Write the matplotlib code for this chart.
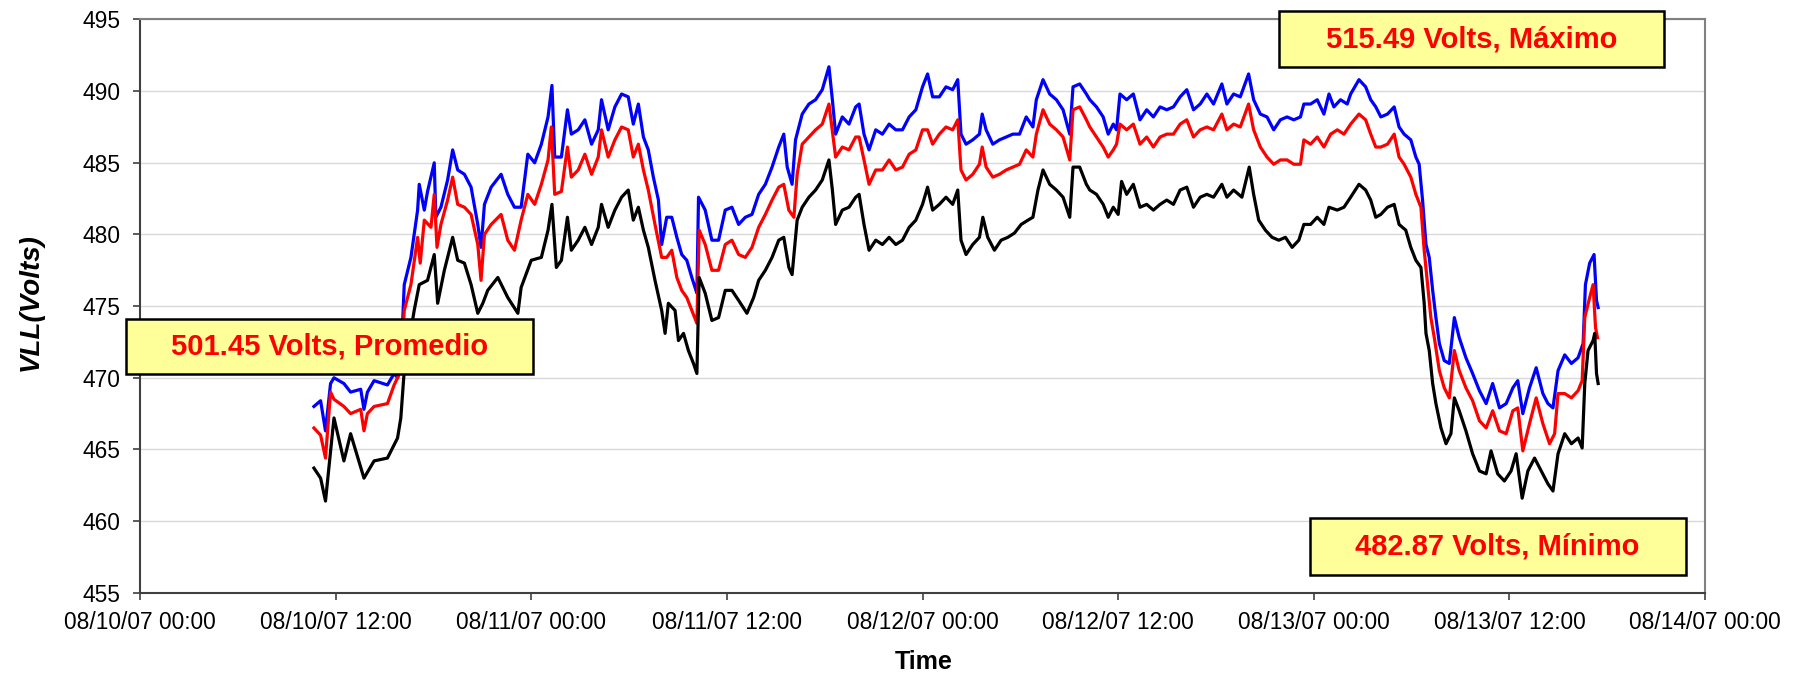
import numpy as np
import pandas as pd
import matplotlib
matplotlib.use("Agg")
import matplotlib.pyplot as plt
import matplotlib.dates as mdates
from matplotlib.patches import Rectangle

plt.rcParams['font.family'] = ['Liberation Sans', 'DejaVu Sans']

start = pd.Timestamp('2007-08-10 00:00')

# VLL maximo (azul): horas desde 08/10/07 00:00, volts
t_max = [10.67, 11.08, 11.38, 11.69, 11.9, 12.51, 12.92, 13.54, 13.74, 13.95, 14.36, 15.18, 15.59, 15.8,
         16.0, 16.21, 16.62, 17.03, 17.13, 17.44, 17.64, 18.05, 18.15, 18.46, 18.87, 19.18, 19.49, 19.9,
         20.31, 20.72, 20.92, 21.13, 21.54, 22.15, 22.56, 22.97, 23.38, 23.79, 24.21, 24.62, 25.03, 25.27,
         25.44, 25.85, 26.22, 26.46, 26.88, 27.29, 27.7, 28.11, 28.31, 28.72, 29.13, 29.54, 29.95, 30.26,
         30.57, 30.88, 31.18, 31.49, 31.8, 32.0, 32.31, 32.62, 32.93, 33.23, 33.54, 33.85, 34.16, 34.26,
         34.67, 35.08, 35.49, 35.9, 36.31, 36.72, 37.13, 37.54, 37.95, 38.36, 38.77, 39.18, 39.49, 39.7,
         40.0, 40.21, 40.62, 41.03, 41.44, 41.85, 42.26, 42.47, 42.67, 43.08, 43.49, 43.9, 44.11, 44.41,
         44.72, 45.13, 45.54, 45.95, 46.36, 46.77, 47.18, 47.59, 48.0, 48.31, 48.62, 49.03, 49.44, 49.85,
         50.16, 50.36, 50.67, 51.08, 51.49, 51.66, 51.9, 52.31, 52.72, 53.13, 53.54, 53.95, 54.36, 54.77,
         54.98, 55.39, 55.8, 56.21, 56.62, 57.03, 57.23, 57.64, 58.05, 58.26, 58.67, 59.08, 59.39, 59.7,
         59.9, 60.11, 60.52, 60.93, 61.34, 61.75, 62.16, 62.57, 62.98, 63.39, 63.8, 64.21, 64.62, 65.03,
         65.44, 65.85, 66.36, 66.67, 67.08, 67.49, 68.0, 68.31, 68.72, 69.13, 69.54, 69.95, 70.36, 70.77,
         71.18, 71.39, 71.8, 72.21, 72.62, 72.93, 73.23, 73.64, 74.05, 74.26, 74.77, 75.18, 75.49, 75.8,
         76.11, 76.52, 76.93, 77.23, 77.54, 77.95, 78.26, 78.46, 78.67, 78.88, 79.08, 79.29, 79.49, 79.7,
         80.0, 80.31, 80.62, 80.92, 81.33, 81.74, 82.16, 82.57, 82.97, 83.39, 83.8, 84.21, 84.51, 84.82,
         85.23, 85.64, 86.05, 86.36, 86.67, 86.98, 87.39, 87.8, 88.21, 88.52, 88.66, 88.92, 89.19, 89.34,
         89.44]
v_max = [468.0, 468.4, 466.3, 469.6, 470.0, 469.6, 469.0, 469.2, 467.8, 469.0, 469.8, 469.5, 470.3, 470.0,
         471.0, 476.5, 478.4, 481.7, 483.5, 481.7, 483.0, 485.0, 481.2, 481.9, 483.8, 485.9, 484.5, 484.2,
         483.3, 480.7, 479.1, 482.1, 483.3, 484.2, 482.8, 481.9, 481.9, 485.6, 485.0, 486.3, 488.2, 490.4,
         485.4, 485.4, 488.7, 487.0, 487.3, 488.0, 486.3, 487.3, 489.4, 487.3, 488.9, 489.8, 489.6, 487.7,
         489.1, 486.8, 485.9, 484.0, 482.4, 479.3, 481.2, 481.2, 479.8, 478.6, 478.2, 477.0, 475.9, 482.6,
         481.7, 479.6, 479.6, 481.7, 481.9, 480.7, 481.2, 481.4, 482.8, 483.5, 484.7, 486.1, 487.0, 484.7,
         483.5, 486.6, 488.4, 489.1, 489.4, 490.1, 491.7, 489.4, 487.0, 488.2, 487.7, 488.9, 489.1, 487.0,
         485.9, 487.3, 487.0, 487.7, 487.3, 487.3, 488.2, 488.7, 490.3, 491.2, 489.6, 489.6, 490.3, 490.1,
         490.8, 487.0, 486.3, 486.6, 487.0, 488.4, 487.3, 486.3, 486.6, 486.8, 487.0, 487.0, 488.2, 487.5,
         489.4, 490.8, 489.8, 489.4, 488.7, 487.0, 490.3, 490.5, 489.8, 489.4, 488.9, 488.2, 487.0, 487.7,
         487.3, 489.8, 489.4, 489.8, 488.0, 488.7, 488.2, 488.9, 488.7, 488.9, 489.6, 490.1, 488.7, 489.1,
         489.8, 489.1, 490.5, 489.1, 489.8, 489.6, 491.2, 489.4, 488.4, 488.2, 487.3, 488.0, 488.2, 488.0,
         488.2, 489.1, 489.1, 489.4, 488.4, 489.8, 488.9, 489.4, 489.1, 489.8, 490.8, 490.3, 489.4, 488.9,
         488.2, 488.4, 488.9, 487.5, 487.0, 486.6, 485.4, 484.9, 482.4, 479.3, 478.4, 476.1, 474.2, 472.4,
         471.2, 471.0, 474.2, 472.8, 471.4, 470.3, 469.1, 468.2, 469.6, 467.9, 468.2, 469.3, 469.8, 467.5,
         469.3, 470.7, 468.9, 468.2, 467.9, 470.5, 471.6, 471.0, 471.4, 472.4, 476.5, 478.0, 478.6, 475.4,
         474.9]

# VLL promedio (rojo)
t_avg = [10.67, 11.08, 11.38, 11.69, 11.9, 12.51, 12.92, 13.54, 13.74, 13.95, 14.36, 15.18, 15.59, 15.8,
         16.0, 16.21, 16.62, 17.03, 17.19, 17.44, 17.85, 18.05, 18.22, 18.46, 18.87, 19.18, 19.49, 19.9,
         20.31, 20.72, 20.92, 21.13, 21.54, 22.15, 22.56, 22.97, 23.38, 23.79, 24.21, 24.62, 25.03, 25.23,
         25.44, 25.85, 26.22, 26.46, 26.88, 27.29, 27.7, 28.11, 28.31, 28.72, 29.13, 29.54, 29.95, 30.26,
         30.57, 30.88, 31.18, 31.59, 32.0, 32.31, 32.62, 32.93, 33.23, 33.54, 33.85, 34.16, 34.3, 34.67,
         35.08, 35.49, 35.9, 36.31, 36.72, 37.13, 37.54, 37.95, 38.36, 38.77, 39.18, 39.49, 39.8, 40.11,
         40.31, 40.62, 41.03, 41.44, 41.85, 42.26, 42.57, 42.67, 43.08, 43.49, 43.9, 44.11, 44.41, 44.72,
         45.13, 45.54, 45.95, 46.36, 46.77, 47.18, 47.59, 48.0, 48.31, 48.62, 49.03, 49.44, 49.85, 50.16,
         50.36, 50.67, 51.08, 51.49, 51.66, 51.9, 52.31, 52.72, 53.13, 53.54, 53.95, 54.36, 54.77, 54.98,
         55.39, 55.8, 56.21, 56.62, 57.03, 57.23, 57.64, 58.05, 58.26, 58.67, 59.08, 59.39, 59.7, 59.9,
         60.11, 60.52, 60.93, 61.34, 61.75, 62.16, 62.57, 62.98, 63.39, 63.8, 64.21, 64.62, 65.03, 65.44,
         65.85, 66.36, 66.67, 67.08, 67.49, 68.0, 68.31, 68.72, 69.13, 69.54, 69.95, 70.36, 70.77, 71.18,
         71.39, 71.8, 72.21, 72.62, 73.03, 73.44, 73.85, 74.26, 74.77, 75.18, 75.49, 75.8, 76.11, 76.52,
         76.93, 77.23, 77.54, 77.95, 78.26, 78.57, 78.77, 78.98, 79.18, 79.39, 79.7, 80.0, 80.31, 80.62,
         80.92, 81.33, 81.74, 82.16, 82.57, 82.97, 83.39, 83.8, 84.21, 84.51, 84.82, 85.23, 85.64, 86.05,
         86.46, 86.77, 86.98, 87.39, 87.8, 88.21, 88.46, 88.62, 88.92, 89.13, 89.28, 89.4]
v_avg = [466.5, 466.0, 464.4, 469.0, 468.5, 468.0, 467.5, 467.8, 466.3, 467.5, 468.0, 468.2, 469.5, 470.0,
         470.5, 474.7, 476.5, 479.8, 478.0, 481.0, 480.5, 482.8, 479.1, 480.7, 482.4, 484.0, 482.1, 481.9,
         481.4, 479.3, 476.8, 480.0, 480.7, 481.4, 479.6, 478.9, 481.0, 482.8, 482.1, 483.5, 485.2, 487.5,
         482.8, 483.0, 486.1, 484.0, 484.5, 485.6, 484.2, 485.4, 487.3, 485.4, 486.6, 487.5, 487.3, 485.4,
         486.3, 484.5, 483.1, 480.7, 478.4, 478.4, 478.9, 477.0, 476.1, 475.6, 474.7, 473.8, 480.3, 479.3,
         477.5, 477.5, 479.3, 479.6, 478.6, 478.4, 479.1, 480.5, 481.4, 482.4, 483.3, 483.5, 481.7, 481.2,
         484.2, 486.3, 486.8, 487.3, 487.7, 489.1, 486.3, 485.4, 486.1, 485.9, 486.8, 486.8, 485.2, 483.5,
         484.5, 484.5, 485.2, 484.5, 484.7, 485.6, 485.9, 487.3, 487.3, 486.3, 487.0, 487.5, 487.3, 488.0,
         484.5, 483.8, 484.2, 484.9, 486.1, 484.7, 484.0, 484.2, 484.5, 484.7, 484.9, 485.9, 485.4, 487.0,
         488.7, 487.7, 487.3, 486.8, 485.2, 488.7, 488.9, 488.0, 487.5, 486.8, 486.1, 485.4, 485.9, 486.3,
         487.7, 487.3, 487.7, 486.3, 486.8, 486.1, 486.8, 487.0, 487.0, 487.7, 488.0, 486.8, 487.3, 487.5,
         487.3, 488.4, 487.3, 487.7, 487.5, 489.1, 487.3, 486.1, 485.4, 484.9, 485.2, 485.2, 484.9, 484.9,
         486.6, 486.3, 486.8, 486.1, 487.0, 487.3, 487.0, 487.7, 488.4, 488.0, 487.0, 486.1, 486.1, 486.3,
         487.0, 485.4, 484.9, 484.0, 482.8, 481.9, 478.9, 476.5, 474.2, 472.8, 470.5, 469.3, 468.6, 471.9,
         470.5, 469.3, 468.4, 467.0, 466.5, 467.7, 466.3, 466.1, 467.7, 467.9, 464.9, 466.8, 468.6, 466.8,
         465.4, 466.1, 468.9, 468.9, 468.6, 469.1, 469.8, 474.2, 475.6, 476.5, 473.5, 472.8]

# VLL minimo (negro)
t_min = [10.67, 11.08, 11.38, 11.69, 11.9, 12.51, 12.92, 13.74, 14.36, 15.18, 15.8, 16.0, 16.21, 16.82,
         17.13, 17.64, 18.05, 18.26, 18.67, 19.18, 19.49, 19.9, 20.31, 20.72, 21.03, 21.33, 21.95, 22.56,
         23.18, 23.38, 24.0, 24.62, 25.03, 25.27, 25.54, 25.85, 26.22, 26.46, 26.88, 27.29, 27.7, 28.11,
         28.31, 28.72, 29.13, 29.54, 29.95, 30.26, 30.57, 30.88, 31.18, 31.59, 32.0, 32.21, 32.41, 32.82,
         33.03, 33.34, 33.64, 33.95, 34.16, 34.3, 34.67, 35.08, 35.49, 35.9, 36.31, 36.72, 37.23, 37.64,
         37.95, 38.36, 38.77, 39.18, 39.49, 39.8, 40.0, 40.31, 40.62, 41.03, 41.44, 41.85, 42.26, 42.47,
         42.67, 43.08, 43.49, 43.9, 44.11, 44.41, 44.72, 45.13, 45.54, 45.95, 46.36, 46.77, 47.18, 47.59,
         48.0, 48.31, 48.62, 49.03, 49.44, 49.85, 50.16, 50.36, 50.67, 51.08, 51.49, 51.7, 52.0, 52.41,
         52.82, 53.23, 53.64, 54.05, 54.47, 54.77, 55.08, 55.39, 55.8, 56.21, 56.62, 57.03, 57.23, 57.64,
         58.05, 58.26, 58.67, 59.08, 59.39, 59.7, 60.0, 60.21, 60.52, 60.93, 61.34, 61.75, 62.16, 62.57,
         62.98, 63.39, 63.8, 64.21, 64.62, 65.03, 65.44, 65.85, 66.36, 66.67, 67.08, 67.59, 68.04, 68.31,
         68.62, 69.03, 69.44, 69.85, 70.26, 70.67, 71.08, 71.39, 71.8, 72.21, 72.62, 72.93, 73.44, 73.85,
         74.26, 74.77, 75.18, 75.49, 75.8, 76.11, 76.52, 76.93, 77.23, 77.64, 77.95, 78.26, 78.57, 78.77,
         78.88, 79.08, 79.29, 79.49, 79.8, 80.11, 80.41, 80.62, 80.92, 81.33, 81.74, 82.16, 82.57, 82.87,
         83.28, 83.69, 84.1, 84.41, 84.78, 85.13, 85.54, 85.95, 86.36, 86.67, 86.98, 87.39, 87.8, 88.21,
         88.46, 88.62, 88.82, 89.13, 89.23, 89.34, 89.44]
v_min = [463.7, 463.0, 461.4, 464.9, 467.2, 464.2, 466.1, 463.0, 464.2, 464.4, 465.8, 467.2, 470.5, 474.7,
         476.5, 476.8, 478.6, 475.2, 477.5, 479.8, 478.2, 478.0, 476.5, 474.5, 475.2, 476.1, 477.0, 475.6,
         474.5, 476.3, 478.2, 478.4, 480.3, 482.1, 477.7, 478.2, 481.2, 478.9, 479.6, 480.5, 479.3, 480.5,
         482.1, 480.5, 481.7, 482.6, 483.1, 481.0, 481.9, 480.3, 479.1, 476.8, 474.7, 473.1, 475.2, 474.7,
         472.6, 473.1, 471.9, 471.0, 470.3, 477.0, 475.9, 474.0, 474.2, 476.1, 476.1, 475.4, 474.5, 475.6,
         476.8, 477.5, 478.4, 479.6, 479.8, 477.7, 477.2, 481.0, 481.9, 482.6, 483.1, 483.8, 485.2, 483.1,
         480.7, 481.7, 481.9, 482.6, 482.8, 480.7, 478.9, 479.6, 479.3, 479.8, 479.3, 479.6, 480.5, 481.0,
         482.1, 483.3, 481.7, 482.1, 482.6, 482.1, 483.1, 479.6, 478.6, 479.3, 479.8, 481.2, 479.8, 478.9,
         479.6, 479.8, 480.1, 480.7, 481.0, 481.2, 483.1, 484.5, 483.5, 483.1, 482.6, 481.2, 484.7, 484.7,
         483.5, 483.1, 482.8, 482.1, 481.2, 481.9, 481.4, 483.7, 482.8, 483.5, 481.9, 482.1, 481.7, 482.1,
         482.4, 482.1, 483.1, 483.3, 481.9, 482.6, 482.8, 482.6, 483.5, 482.6, 483.1, 482.6, 484.7, 482.8,
         481.0, 480.3, 479.8, 479.6, 479.8, 479.1, 479.6, 480.7, 480.7, 481.2, 480.7, 481.9, 481.7, 481.9,
         482.6, 483.5, 483.1, 482.4, 481.2, 481.4, 481.9, 482.1, 480.7, 480.3, 479.1, 478.2, 477.7, 475.2,
         473.1, 471.9, 469.6, 468.2, 466.5, 465.4, 466.1, 468.6, 467.7, 466.3, 464.7, 463.5, 463.3, 464.9,
         463.3, 462.8, 463.5, 464.7, 461.6, 463.5, 464.4, 463.5, 462.6, 462.1, 464.7, 466.1, 465.4, 465.8,
         465.1, 469.6, 471.9, 472.6, 473.1, 470.3, 469.6]

y_ticks = [455, 460, 465, 470, 475, 480, 485, 490, 495]

notes = [("501.45 Volts, Promedio", (0.070, 0.445, 0.226, 0.082)),
         ("515.49 Volts, Máximo", (0.711, 0.900, 0.214, 0.084)),
         ("482.87 Volts, Mínimo", (0.728, 0.147, 0.209, 0.084))]


def to_time(hours):
    return start + pd.to_timedelta(np.array(hours), unit='h')


fig = plt.figure(figsize=(17.99, 6.74), dpi=100)
ax = fig.add_axes([0.0778, 0.1205, 0.8700, 0.8506])

# el original es muy ruidoso; un trazo algo mas grueso se le parece mas
ax.plot(to_time(t_max), v_max, color='#0000FF', lw=2.3)
ax.plot(to_time(t_avg), v_avg, color='#FF0000', lw=2.3)
ax.plot(to_time(t_min), v_min, color='#000000', lw=2.3)

ax.set_xlim(start, start + pd.Timedelta(days=4))
ax.set_ylim(455, 495)
ax.set_yticks(y_ticks)
ax.xaxis.set_major_locator(mdates.HourLocator(byhour=[0, 12]))
ax.xaxis.set_major_formatter(mdates.DateFormatter('%m/%d/%y %H:%M'))
ax.grid(axis='y', color='#D9D9D9', lw=1)
ax.set_axisbelow(True)

ax.tick_params(axis='both', direction='out', length=5, width=1.2, labelsize=16.4, colors='#404040',
               labelcolor='black')
ax.tick_params(axis='y', pad=9)
ax.tick_params(axis='x', pad=8)
for s in ['left', 'bottom']:
    ax.spines[s].set_color('#404040')
    ax.spines[s].set_linewidth(1.5)
for s in ['top', 'right']:
    ax.spines[s].set_color('#808080')
    ax.spines[s].set_linewidth(1.5)

fig.text(0.0172, 0.552, 'VLL(Volts)', rotation=90, ha='center', va='center',
         fontsize=20, fontweight='bold', fontstyle='italic')
fig.text(0.5135, 0.018, 'Time', ha='center', va='center', fontsize=18, fontweight='bold')

for label, (x0, y0, w, h) in notes:
    fig.patches.append(Rectangle((x0, y0), w, h, transform=fig.transFigure, facecolor='#FFFF99',
                                 edgecolor='black', lw=1.8, zorder=5))
    fig.text(x0 + w / 2, y0 + h / 2, label, ha='center', va='center', color='#FF0000',
             fontsize=21, fontweight='bold', zorder=6)

fig.savefig('out.png', dpi=100)
